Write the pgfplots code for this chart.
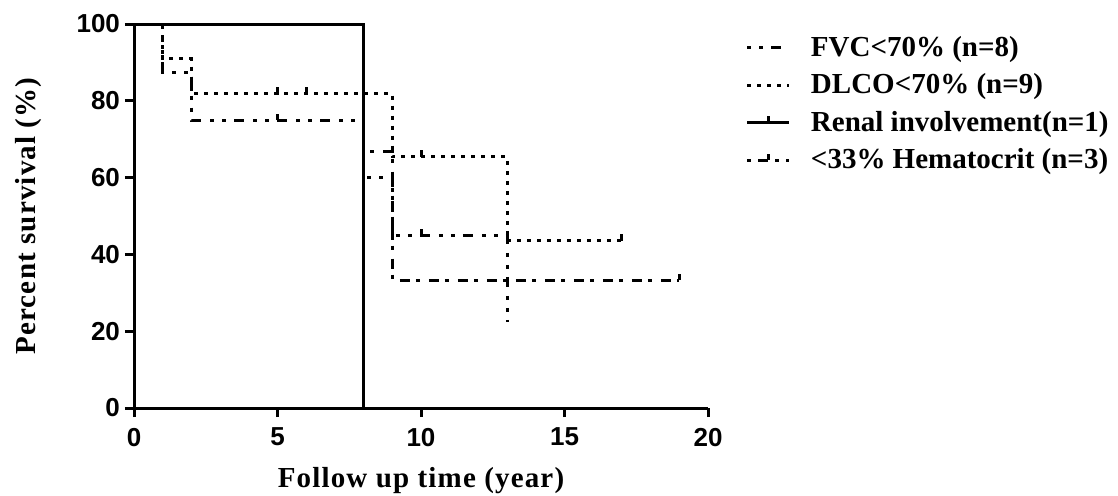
\documentclass[border=0pt]{standalone}
\usepackage{fontspec}
\setmainfont{Liberation Serif}
\newfontfamily\arialb{Liberation Sans}
\newfontfamily\labfont[LetterSpace=4]{Liberation Serif}
\usepackage{pgfplots}
\pgfplotsset{compat=1.18}
\pgfdeclareplotmark{cens}{%
  \pgfpathmoveto{\pgfqpoint{0pt}{0pt}}%
  \pgfpathlineto{\pgfqpoint{0pt}{3.2pt}}%
  \pgfusepathqstroke}
\begin{document}
\begin{tikzpicture}
\path[use as bounding box] (0,0) rectangle (559pt,247.5pt);
\begin{axis}[
  at={(67pt,43.5pt)}, anchor=south west,
  width=287pt, height=192pt, scale only axis,
  xmin=0, xmax=20, ymin=0, ymax=100,
  axis lines=left, axis line style={-, line width=1.5pt},
  every tick/.style={line width=1.5pt, black},
  tick align=outside, major tick length=4.5pt,
  xtick={0,5,10,15,20}, ytick={0,20,40,60,80,100},
  /pgf/number format/assume math mode=true,
  tick label style={font=\arialb\bfseries\fontsize{13}{15}\selectfont},
  xticklabel style={yshift=-2pt},
  yticklabel style={xshift=1pt},
  xlabel={\labfont\bfseries\fontsize{14.5}{16}\selectfont Follow up time (year)},
  ylabel={\labfont\bfseries\fontsize{14.5}{16}\selectfont Percent survival (\%)},
  xlabel style={at={(axis description cs:0.5,-0.19)}, anchor=center},
  ylabel style={at={(axis description cs:-0.183,0.5)}, anchor=center},
  legend style={at={(axis description cs:1.055,0.99)}, anchor=north west,
    draw=none, fill=none, font=\bfseries\fontsize{14.5}{16}\selectfont,
    row sep=3.2pt, legend cell align=left,
    /tikz/every odd column/.append style={column sep=8pt}},
  legend image code/.code={%
    \draw[mark repeat=2, mark phase=2, #1] plot coordinates {(0pt,0pt) (10.5pt,0pt) (21pt,0pt)};},
  clip=false,
]
% FVC<70% (n=8): dot dot dash
\addplot[black, line width=1.5pt, dash pattern=on 2pt off 4pt on 2pt off 4pt on 5pt off 4.5pt,
  mark=cens, mark indices={6,11}, mark options={solid}]
  coordinates {(0,100)(1,100)(1,87.5)(2,87.5)(2,75)(5,75)(8,75)(8,60)(9,60)(9,45)(10,45)(13,45)(13,22.5)};
\addlegendentry{FVC<70\% (n=8)}
% DLCO<70% (n=9): dotted
\addplot[black, line width=1.5pt, dash pattern=on 2pt off 3pt,
  mark=cens, mark indices={6,7,10,13}, mark options={solid}]
  coordinates {(0,100)(1,100)(1,90.9)(2,90.9)(2,81.8)(5,81.8)(6,81.8)(9,81.8)(9,65.4)(10,65.4)(13,65.4)(13,43.6)(17,43.6)};
\addlegendentry{DLCO<70\% (n=9)}
% <33% Hematocrit (n=3): dash dot
\addplot[black, line width=1.5pt, dash pattern=on 5pt off 3pt on 2pt off 4.5pt,
  mark=cens, mark indices={6}, mark options={solid}, forget plot]
  coordinates {(0,100)(8,100)(8,66.7)(9,66.7)(9,33.3)(19,33.3)};
% Renal involvement (n=1): solid
\addplot[black, line width=1.5pt, solid,
  legend image code/.code={%
    \draw[line width=1.5pt] (0pt,0pt) -- (21pt,0pt);
    \draw[line width=1.5pt] (10.5pt,0pt) -- (10.5pt,3.2pt);}]
  coordinates {(0,100)(8,100)(8,0)};
\addlegendentry{Renal involvement(n=1)}
\addlegendimage{black, line width=1.5pt, dash pattern=on 2pt off 3.5pt on 5pt off 3.5pt,
  mark=cens, mark options={solid}}
\addlegendentry{<33\% Hematocrit (n=3)}
\end{axis}
\end{tikzpicture}
\end{document}
